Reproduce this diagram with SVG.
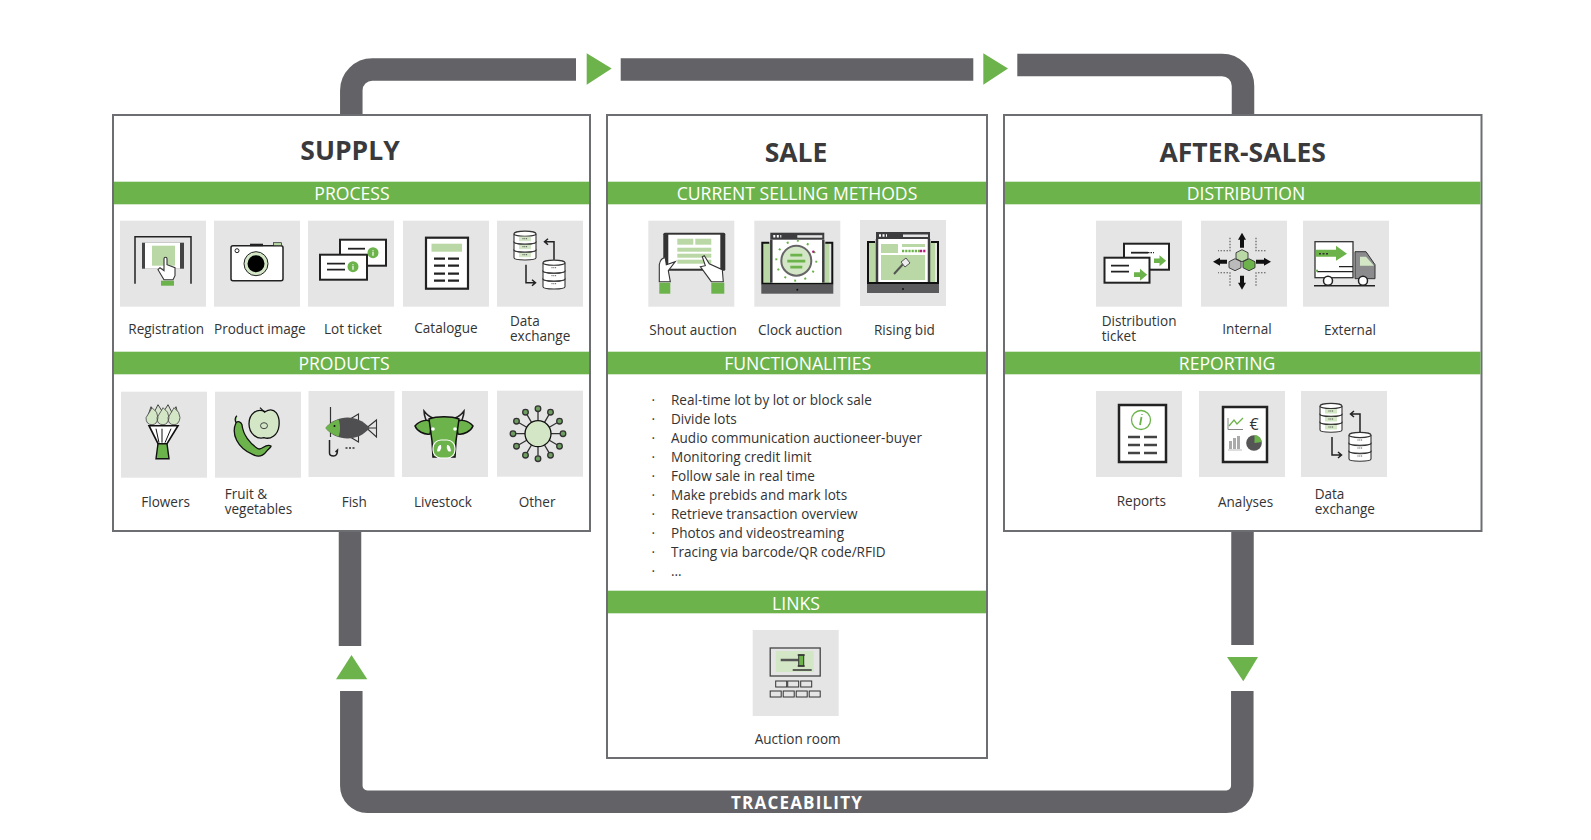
<svg xmlns="http://www.w3.org/2000/svg" width="1591" height="840" viewBox="0 0 1591 840">
<style>
text{font-family:"Open Sans","Noto Sans","Liberation Sans",sans-serif}
.box{fill:#fff;stroke:#6d6e71;stroke-width:2}
.band{fill:#6db34c}
.tile{fill:#e5e5e5}
.title{font-size:26.500px;font-weight:700;fill:#3a3a3c;text-anchor:middle}
.sec{font-size:17.600px;fill:#fff;text-anchor:middle}
.lbl{font-size:13.550px;fill:#333}
.pipe{fill:none;stroke:#636266;stroke-width:22.500}
.arrowhead{fill:#6db34c}
.k{fill:none;stroke:#222;stroke-width:1.500}
.kw{fill:#fff;stroke:#222;stroke-width:1.500}
.kd{fill:#fff;stroke:#333;stroke-width:1.100}
.kf{fill:#222}
.g{fill:#6db34c}
.gl{fill:#b9d8a6}
.gp{fill:#d3e7c6}
.w{fill:#fff}
.dk{fill:#5a5a5d}
</style>
<defs>
<g id="db-one"><path d="M-11,-4 V4 C-11,7 11,7 11,4 V-4" class="kd"/><ellipse cx="0" cy="-4" rx="11" ry="2.600" class="kd"/></g>
<g id="db"><use href="#db-one" y="23"/><rect x="-6" y="22" width="12" height="4.500" class="gp"/><path d="M-2.500,24 h5" stroke="#333" stroke-width=".9" stroke-dasharray="1 .8"/><use href="#db-one" y="15"/><rect x="-6" y="14" width="12" height="4.500" class="gp"/><path d="M-2.500,16 h5" stroke="#333" stroke-width=".9" stroke-dasharray="1 .8"/><use href="#db-one" y="7"/><rect x="-6" y="6" width="12" height="4.500" class="gp"/><path d="M-2.500,8 h5" stroke="#333" stroke-width=".9" stroke-dasharray="1 .8"/></g>
<g id="dbw"><use href="#db-one" y="23"/><path d="M-2.500,24 h5" stroke="#333" stroke-width=".9" stroke-dasharray="1 .8"/><use href="#db-one" y="15"/><path d="M-2.500,16 h5" stroke="#333" stroke-width=".9" stroke-dasharray="1 .8"/><use href="#db-one" y="7"/><path d="M-2.500,8 h5" stroke="#333" stroke-width=".9" stroke-dasharray="1 .8"/></g>
<g id="exchange">
<use href="#db" x="28" y="10"/><use href="#dbw" x="57" y="39"/>
<path d="M57,39 V21 H48 M51,18 L47.500,21 L51,24" class="k"/>
<path d="M29,44 V62 H38 M35,59 L38.500,62 L35,65" class="k"/>
</g>
<g id="laptop">
<rect x="9" y="22" width="66" height="41" class="gl"/>
<path d="M15,22 H8 V63 H78 V22 H71" fill="none" stroke="#111" stroke-width="2"/>
<rect x="7" y="64" width="72" height="9" class="dk"/>
<circle cx="43" cy="69" r="1" fill="#111"/>
<rect x="17" y="13" width="53" height="49" class="w"/>
<rect x="16" y="12" width="54" height="7" fill="#3d3d40"/>
<rect x="43" y="14.500" width="25" height="2.500" fill="#e5e5e5"/>
<path d="M19,15.500 h8" stroke="#fff" stroke-width="2.500" stroke-dasharray="2 1.500"/>
<path d="M17,19 V62 M69,19 V62" stroke="#3d3d40" stroke-width="2.500"/>
</g>
<g id="ticket-lines"><path d="M0,0 H18 M0,6 H18" stroke="#222" stroke-width="1.800"/></g>
<g id="garrow"><path d="M0,-2 H5 V-5 L11,0 L5,5 V2 H0 Z" class="g"/></g>
</defs>

<g id="connectors">
<path class="pipe" d="M351.300,115 V90.500 a21,21 0 0 1 21,-21 H576"/>
<path class="pipe" d="M620.700,69.500 H973.300"/>
<path class="pipe" d="M1017.300,65 H1222 a21,21 0 0 1 21,21 V115"/>
<path class="pipe" d="M350,531 V646"/>
<path class="pipe" d="M1242.500,531 V645"/>
<path class="pipe" d="M351.300,691 V785.700 a16,16 0 0 0 16,16 H1226.300 a16,16 0 0 0 16,-16 V691"/>
<polygon class="arrowhead" points="586.700,53.300 611.700,68.500 586.700,84.700"/>
<polygon class="arrowhead" points="983.300,53.300 1008,68.500 983.300,84.700"/>
<polygon class="arrowhead" points="336,679.300 351.500,655 367.300,679.300"/>
<polygon class="arrowhead" points="1227,657 1258,657 1243.300,681.300"/>
<text x="797" y="809" font-size="17" font-weight="700" letter-spacing="1.200" fill="#fff" text-anchor="middle">TRACEABILITY</text>
</g>

<g id="supply">
<rect class="box" x="113" y="115" width="477" height="416"/>
<rect class="band" x="114" y="181.700" width="475" height="22.600"/>
<rect class="band" x="114" y="351.700" width="475" height="22.600"/>
<text class="title" x="350" y="160">SUPPLY</text>
<text class="sec" x="352" y="199.500">PROCESS</text>
<text class="sec" x="344" y="369.500">PRODUCTS</text>
</g>
<g id="sale">
<rect class="box" x="607" y="115" width="380" height="643"/>
<rect class="band" x="608" y="181.700" width="378" height="22.600"/>
<rect class="band" x="608" y="351.700" width="378" height="22.600"/>
<rect class="band" x="608" y="590.700" width="378" height="22.600"/>
<text class="title" x="796" y="162">SALE</text>
<text class="sec" x="797" y="199.500">CURRENT SELLING METHODS</text>
<text class="sec" x="797.700" y="369.500">FUNCTIONALITIES</text>
<text class="sec" x="796" y="610">LINKS</text>
</g>
<g id="after-sales">
<rect class="box" x="1004" y="115" width="477.500" height="416"/>
<rect class="band" x="1005" y="181.700" width="475.500" height="22.600"/>
<rect class="band" x="1005" y="351.700" width="475.500" height="22.600"/>
<text class="title" x="1242.700" y="162">AFTER-SALES</text>
<text class="sec" x="1246" y="199.500">DISTRIBUTION</text>
<text class="sec" x="1227" y="369.500">REPORTING</text>
</g>

<g id="registration" transform="translate(120,220.700)">
<rect class="tile" width="86" height="86"/>
<path d="M15,63 V16 H71 V63" class="k"/>
<rect x="22" y="22" width="42" height="26" fill="#444"/>
<rect x="25" y="22" width="35" height="26" class="w"/>
<rect x="32" y="25" width="23" height="20" class="gl"/>
<rect x="41" y="60" width="13" height="5" class="g"/>
<path d="M44,59 L38,49 L40,47 L44,50 V38 a1.500,1.500 0 0 1 3,0 V44 L55,47 V55 L53,59 Z" class="kd"/>
<text class="lbl" x="8.300" y="113.300">Registration</text>
</g>
<g id="product-image" transform="translate(214,220.700)">
<rect class="tile" width="86" height="86"/>
<rect x="17" y="25" width="52" height="35" rx="2" class="kw"/>
<rect x="36" y="23" width="13" height="2.500" class="kf"/>
<rect x="59.500" y="22" width="8" height="3" class="gl" stroke="#222" stroke-width=".7"/>
<circle cx="23" cy="30" r="2" fill="none" stroke="#222"/>
<circle cx="42" cy="43" r="12" class="gp" stroke="#222" stroke-width="1"/>
<circle cx="42" cy="43" r="8.500" fill="#000"/>
<text class="lbl" x="0" y="113.300">Product image</text>
</g>
<g id="lot-ticket" transform="translate(308,220.700)">
<rect class="tile" width="86" height="86"/>
<rect x="32" y="19" width="46" height="26" class="w" stroke="#222" stroke-width="2"/>
<rect x="12" y="34" width="47" height="25" class="w" stroke="#222" stroke-width="2"/>
<path d="M40,28 H57" stroke="#222" stroke-width="1.800"/>
<use href="#ticket-lines" x="19" y="43"/>
<circle cx="65" cy="32" r="5.500" class="g"/><circle cx="45" cy="46" r="5.500" class="g"/>
<path d="M65,29.500 v.8 M65,31 v4 M45,43.500 v.8 M45,45 v4" stroke="#fff" stroke-width="1.200"/>
<text class="lbl" x="16" y="113.300">Lot ticket</text>
</g>
<g id="catalogue" transform="translate(403,220.700)">
<rect class="tile" width="86" height="86"/>
<rect x="23" y="17" width="42" height="51" class="w" stroke="#222" stroke-width="2.200"/>
<rect x="28.500" y="23" width="30.500" height="8" class="gl"/>
<path d="M31,38 H42 M45,38 H56 M31,45 H42 M45,45 H56 M31,53 H42 M45,53 H56 M31,60 H42 M45,60 H56" stroke="#222" stroke-width="2.200"/>
<text class="lbl" x="11.300" y="112.300">Catalogue</text>
</g>
<g id="data-exchange-supply" transform="translate(497,220.700)">
<rect class="tile" width="86" height="86"/>
<use href="#exchange"/>
<text class="lbl" x="13" y="105.300">Data</text><text class="lbl" x="13" y="120.300">exchange</text>
</g>

<g id="flowers" transform="translate(121,391.700)">
<rect class="tile" width="86" height="86"/>
<path d="M26,27 L30,15 L33,21 L37,13 L42,21 L47,13 L51,21 L55,15 L58,27 Z" fill="#d9e6cf" stroke="#444" stroke-width="1"/>
<path d="M25,26 q5,-8 6,-10 q6,4 6,10 q-1,7 -6,7 q-6,0 -6,-7 M36,26 q5,-8 6,-10 q6,4 6,10 q-1,7 -6,7 q-6,0 -6,-7 M47,26 q5,-8 6,-10 q6,4 6,10 q-1,7 -6,7 q-6,0 -6,-7" class="gp" stroke="#444" stroke-width=".8"/>
<path d="M28,34 H57 L46,52 H37 Z" class="w" stroke="#111" stroke-width="1.600"/>
<path d="M38,51 L35,37 M41,51 V37 M44,51 L50,37" stroke="#111" stroke-width="1"/>
<path d="M37,52 H46 L48,67 H35 Z" class="g" stroke="#111" stroke-width="1.400"/>
<text class="lbl" x="20.300" y="115.300">Flowers</text>
</g>
<g id="fruit-vegetables" transform="translate(215,391.700)">
<rect class="tile" width="86" height="86"/>
<path d="M50,20 C60,14 65,24 64,34 C63,44 55,48 49,46 C42,48 34,42 34,32 C34,22 42,16 50,20 Z" class="gp" stroke="#111" stroke-width="1.300"/>
<path d="M45,16 L50,21" stroke="#111" stroke-width="1.200"/>
<ellipse cx="49" cy="34" rx="3.500" ry="3" fill="none" stroke="#444"/>
<path d="M22,24 q-3,2 -1,7 M21,31 C16,42 22,56 38,63 C46,67 50,62 53,58 C56,55 57,54 55,54 C50,52 47,59 43,57 C35,52 28,43 27,33 C26,30 23,29 21,31 Z" class="g" stroke="#111" stroke-width="1.300"/>
<text class="lbl" x="9.700" y="107.300">Fruit &amp;</text><text class="lbl" x="9.700" y="122.300">vegetables</text>
</g>
<g id="fish" transform="translate(308.500,391)">
<rect class="tile" width="86" height="86"/>
<path d="M22,16 V46" stroke="#333" stroke-width="1.200"/>
<path d="M40,29 L50,23 V31 Z M40,45 L50,51 V43 Z" fill="#e5e5e5" stroke="#333" stroke-width="1.100"/>
<path d="M58,37 L68,29 V46 Z M58,37 H68" fill="none" stroke="#333" stroke-width="1.100"/>
<path d="M17,37 C28,23 50,23 61,37 C50,51 28,51 17,37 Z" fill="#4f4f52"/>
<path d="M17,37 C21,32 26,30 30,28.500 C32,33 32,41 30,45.500 C26,44 21,42 17,37 Z" class="g"/>
<circle cx="26" cy="35" r="1" fill="#111"/>
<path d="M21,49 V62 q0,3 4,3 q4,0 4,-6 l-2,2" class="k" stroke-width="1.200"/>
<path d="M37,57 H46" stroke="#333" stroke-width="1.500" stroke-dasharray="2 1.500"/>
<text class="lbl" x="33.200" y="116">Fish</text>
</g>
<g id="livestock" transform="translate(402,391)">
<rect class="tile" width="86" height="86"/>
<path d="M24,29 C23,26 22,24 22,20 C25,24 28,26 31,27 M60,29 C61,26 62,24 62,20 C59,24 56,26 53,27" class="k" stroke-width="2.400"/>
<path d="M13,35 C18,29 26,28 30,31 L28,43 C22,44 15,40 13,35 Z M71,35 C66,29 58,28 54,31 L56,43 C62,44 69,40 71,35 Z" class="g" stroke="#111" stroke-width="1.500"/>
<path d="M27,28 C35,25 49,25 57,28 L54,50 L53,66 H31 L30,50 Z" class="g" stroke="#111" stroke-width="1.500"/>
<circle cx="31" cy="38" r="1.800" class="w"/><circle cx="53" cy="38" r="1.800" class="w"/>
<rect x="31" y="49" width="22" height="18" rx="8" class="g" stroke="#fff" stroke-width="1.200"/>
<path d="M35,60 q1,-7 4,-6 q1,3 -1,6 q-2,1 -3,0 Z M49,60 q-1,-7 -4,-6 q-1,3 1,6 q2,1 3,0 Z" class="w"/>
<text class="lbl" x="12" y="116">Livestock</text>
</g>
<g id="other" transform="translate(497,390.700)">
<rect class="tile" width="86" height="86"/>
<g stroke="#333" stroke-width="1.300" fill="#6e9e60">
<path d="M41,30 V21 M41,56 V65 M28,43 H19 M54,43 H63 M34.500,31.700 L30,24 M47.500,31.700 L52,24 M34.500,54.300 L30,62 M47.500,54.300 L52,62 M29.700,36.500 L22,32 M52.300,36.500 L60,32 M29.700,49.500 L22,54 M52.300,49.500 L60,54"/>
<circle cx="41" cy="18" r="2.800"/><circle cx="41" cy="68" r="2.800"/><circle cx="16" cy="43" r="2.800"/><circle cx="66" cy="43" r="2.800"/><circle cx="28.500" cy="21.500" r="2.800"/><circle cx="53.500" cy="21.500" r="2.800"/><circle cx="28.500" cy="64.500" r="2.800"/><circle cx="53.500" cy="64.500" r="2.800"/><circle cx="19.500" cy="30.500" r="2.800"/><circle cx="62.500" cy="30.500" r="2.800"/><circle cx="19.500" cy="55.500" r="2.800"/><circle cx="62.500" cy="55.500" r="2.800"/>
</g>
<circle cx="41" cy="43" r="13" class="gp" stroke="#111" stroke-width="1.300"/>
<text class="lbl" x="21.700" y="116.300">Other</text>
</g>

<g id="shout-auction" transform="translate(648.300,220.700)">
<rect class="tile" width="86" height="86"/>
<rect x="15" y="12" width="62" height="38" rx="1.500" fill="#333"/>
<rect x="20" y="14" width="52" height="34" class="w"/>
<rect x="29" y="18" width="16" height="6" class="gl"/><rect x="47" y="18" width="16" height="6" class="gl"/>
<rect x="29" y="27" width="34" height="4" class="gl"/><rect x="29" y="33" width="34" height="4" class="gl"/><rect x="29" y="39" width="34" height="4" class="gl"/>
<path d="M11,61 L11,44 C12,38 15,37 17,37 L18,44 L27,41 L20,50 L22,61 Z" class="kd"/>
<path d="M52,46 L57,45 L54,36 L56,35 L61,43 L74,49 L75,61 L63,61 Z" class="kd"/>
<rect x="11" y="62" width="11" height="11" class="g"/><rect x="63" y="62" width="13" height="11" class="g"/>
<text class="lbl" x="1" y="114.300">Shout auction</text>
</g>
<g id="clock-auction" transform="translate(754.300,220.700)">
<rect class="tile" width="86" height="86"/>
<use href="#laptop"/>
<circle cx="42" cy="40" r="15" class="gp" stroke="#666" stroke-width="2"/>
<path d="M36,34.500 H48 M33,40.500 H51 M36,46.500 H48" stroke="#6db34c" stroke-width="2.800"/>
<circle cx="42" cy="40" r="20" fill="none" stroke="#6db34c" stroke-width="2" stroke-dasharray="2 8.470"/>
<circle cx="59" cy="31" r="1.200" fill="#b5197a"/>
<text class="lbl" x="3.700" y="114.300">Clock auction</text>
</g>
<g id="rising-bid" transform="translate(860,220)">
<rect class="tile" width="86" height="86"/>
<use href="#laptop"/>
<rect x="21" y="24" width="17" height="9" class="gl"/>
<rect x="42" y="24" width="23" height="3" class="gl"/>
<path d="M42,31 H60" stroke="#6db34c" stroke-width="2.500" stroke-dasharray="2.200 1"/>
<path d="M60,31 H66" stroke="#b5197a" stroke-width="2.500" stroke-dasharray="2.200 1"/>
<rect x="21" y="35" width="44" height="25" class="gl"/>
<path d="M34,54 L44,43" stroke="#555" stroke-width="2"/>
<path d="M41,42 L46,38 L50,43 L45,47 Z" fill="#eee" stroke="#555"/>
<text class="lbl" x="14" y="115">Rising bid</text>
</g>

<g id="functionalities">
<text class="lbl" x="651.500" y="404.500">·</text><text class="lbl" x="671" y="404.500">Real-time lot by lot or block sale</text>
<text class="lbl" x="651.500" y="423.500">·</text><text class="lbl" x="671" y="423.500">Divide lots</text>
<text class="lbl" x="651.500" y="442.500">·</text><text class="lbl" x="671" y="442.500">Audio communication auctioneer-buyer</text>
<text class="lbl" x="651.500" y="461.500">·</text><text class="lbl" x="671" y="461.500">Monitoring credit limit</text>
<text class="lbl" x="651.500" y="480.500">·</text><text class="lbl" x="671" y="480.500">Follow sale in real time</text>
<text class="lbl" x="651.500" y="499.500">·</text><text class="lbl" x="671" y="499.500">Make prebids and mark lots</text>
<text class="lbl" x="651.500" y="518.500">·</text><text class="lbl" x="671" y="518.500">Retrieve transaction overview</text>
<text class="lbl" x="651.500" y="537.500">·</text><text class="lbl" x="671" y="537.500">Photos and videostreaming</text>
<text class="lbl" x="651.500" y="556.500">·</text><text class="lbl" x="671" y="556.500">Tracing via barcode/QR code/RFID</text>
<text class="lbl" x="651.500" y="575.500">·</text><text class="lbl" x="671" y="575.500">...</text>
</g>

<g id="auction-room" transform="translate(752.700,630)">
<rect class="tile" width="86" height="86"/>
<rect x="17.500" y="18" width="50" height="28" fill="none" stroke="#444" stroke-width="1.300"/>
<rect x="23" y="21" width="38" height="21" class="gp"/>
<path d="M28,30 H46" stroke="#555" stroke-width="2.500"/>
<rect x="46" y="25" width="5" height="11" class="g" stroke="#333"/>
<path d="M45,25 H52 M45,36 H52 M40,40 H59" stroke="#333" stroke-width="1.300"/>
<g fill="#e5e5e5" stroke="#333" stroke-width="1">
<rect x="23" y="51" width="11" height="6"/><rect x="35" y="51" width="11" height="6"/><rect x="48" y="51" width="11" height="6"/>
<rect x="17.500" y="61" width="11" height="6"/><rect x="30.500" y="61" width="11" height="6"/><rect x="43.500" y="61" width="11" height="6"/><rect x="56.500" y="61" width="11" height="6"/>
</g>
<text class="lbl" x="2" y="114">Auction room</text>
</g>

<g id="distribution-ticket" transform="translate(1096,220.700)">
<rect class="tile" width="86" height="86"/>
<rect x="28" y="23" width="45" height="26" class="w" stroke="#222" stroke-width="2"/>
<rect x="8.500" y="37" width="45" height="25" class="w" stroke="#222" stroke-width="2"/>
<path d="M35,32 H52" stroke="#222" stroke-width="1.800"/><path d="M52,32 H58" stroke="#222" stroke-width="1.200" stroke-dasharray="1.500 1"/>
<use href="#ticket-lines" x="15" y="45"/>
<use href="#garrow" transform="translate(58,40) scale(1.100)"/>
<use href="#garrow" transform="translate(38,54) scale(1.200)"/>
<text class="lbl" x="5.700" y="105.800">Distribution</text><text class="lbl" x="5.700" y="120.800">ticket</text>
</g>
<g id="internal" transform="translate(1201,220.700)">
<rect class="tile" width="86" height="86"/>
<path d="M41,12 L45,19 H43 V27 H39 V19 H37 Z M41,69 L45,62 H43 V55 H39 V62 H37 Z M12,41 L19,37 V39 H26 V43 H19 V45 Z M70,41 L63,37 V39 H55 V43 H63 V45 Z" fill="#111"/>
<path d="M29,17 V30 H17 M55,17 V30 H65 M29,65 V52 H17 M55,65 V52 H65" fill="none" stroke="#555" stroke-width="1.100" stroke-dasharray="1.500 1.500"/>
<g stroke="#333" stroke-width=".9">
<path d="M41,29 L47,32 V38 L41,41 L35,38 V32 Z" class="gl"/><path d="M34,38 L40,41 V47 L34,50 L28,47 V41 Z" fill="#bbb"/><path d="M48,38 L54,41 V47 L48,50 L42,47 V41 Z" class="g"/>
</g>
<text class="lbl" x="21.300" y="113.300">Internal</text>
</g>
<g id="external" transform="translate(1303,220.700)">
<rect class="tile" width="86" height="86"/>
<rect x="12" y="21" width="38" height="36" class="w" stroke="#333" stroke-width="1.300"/>
<path d="M13,29 H33 V25 L44,33 L33,40 V36 H13 Z" class="g"/>
<path d="M16,33 H26" stroke="#333" stroke-width="1.500" stroke-dasharray="2 1.500"/>
<path d="M36,46 H50 M14,51 H50" stroke="#222" stroke-width="1.300"/>
<path d="M52,31 H63 L72,44 V58 H52 Z" fill="#8b8b8d" stroke="#333" stroke-width="1"/>
<path d="M57,36 H63 L71,45 H57 Z" class="gp"/>
<rect x="12" y="49" width="3" height="2" class="g"/>
<path d="M11,65 H72" stroke="#222" stroke-width="1.500"/>
<circle cx="25" cy="60" r="4.500" class="kw"/><circle cx="60" cy="60" r="4.500" class="kw"/>
<text class="lbl" x="21" y="114.300">External</text>
</g>

<g id="reports" transform="translate(1096,391)">
<rect class="tile" width="86" height="86"/>
<rect x="23" y="14" width="47" height="57" class="w" stroke="#222" stroke-width="2.500"/>
<circle cx="45" cy="29" r="9.500" fill="none" stroke="#6db34c" stroke-width="1.300"/>
<path d="M46,23 V23.800 M45.500,26 L44,34" stroke="#6db34c" stroke-width="1.800"/>
<path d="M32,46 H44 M48,46 H61 M32,54 H44 M48,54 H61 M32,62 H44 M48,62 H61" stroke="#444" stroke-width="2.500"/>
<text class="lbl" x="20.700" y="115">Reports</text>
</g>
<g id="analyses" transform="translate(1199,391)">
<rect class="tile" width="86" height="86"/>
<rect x="24" y="16" width="44" height="55" class="w" stroke="#222" stroke-width="2.500"/>
<path d="M29,27 V38.500 H44" fill="none" stroke="#888" stroke-width="1"/>
<path d="M30,35 L35,29 L38,33 L44,27" fill="none" stroke="#6db34c" stroke-width="1.300"/>
<text x="55" y="39" font-size="16" fill="#333" text-anchor="middle">€</text>
<path d="M30,50 h3 v8 h-3 Z M34,47 h3 v11 h-3 Z M38,45 h3 v13 h-3 Z" fill="#aaa"/><path d="M29,59 H43" stroke="#bbb" stroke-width="1"/>
<circle cx="55" cy="52" r="7.800" fill="#555"/>
<path d="M55.500,52 V44 A8,8 0 0 1 63,51 Z" class="g"/>
<text class="lbl" x="19" y="116">Analyses</text>
</g>
<g id="data-exchange-after" transform="translate(1301,391)">
<rect class="tile" width="86" height="86"/>
<use href="#exchange" x="2" y="2"/>
<text class="lbl" x="13.700" y="108">Data</text><text class="lbl" x="13.700" y="123">exchange</text>
</g>
</svg>
